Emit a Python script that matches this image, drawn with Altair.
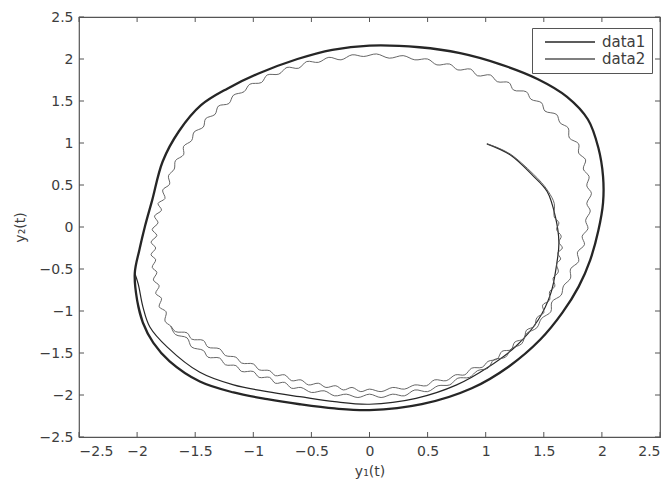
import altair as alt
import pandas as pd

# ---- data (clockwise trajectories) ----
# data1: first pass from the start point until it joins the limit cycle
d1a_x = [1.01, 1.21, 1.40, 1.53, 1.60, 1.63, 1.61, 1.56, 1.45, 1.26, 1.02, 0.75, 0.40, 0.00, -0.30,
         -0.60, -0.88, -1.17, -1.46, -1.74, -1.89, -1.95, -1.99, -2.02]
d1a_y = [0.99, 0.86, 0.62, 0.42, 0.12, -0.18, -0.45, -0.79, -1.11, -1.42, -1.67, -1.88, -2.04, -2.11, -2.08,
         -2.02, -1.96, -1.88, -1.73, -1.43, -1.19, -0.95, -0.68, -0.55]
# data1: limit cycle (drawn over several times in the original)
d1b_x = [-1.95, -2.00, -2.02, -1.98, -1.93, -1.87, -1.78, -1.64, -1.45, -1.22, -0.95, -0.62, -0.32, 0.00,
         0.43, 0.78, 1.12, 1.45, 1.70, 1.88, 1.97, 2.01, 2.01, 1.97, 1.90, 1.80, 1.66, 1.47, 1.20, 0.88,
         0.45, 0.00, -0.30, -0.60, -0.88, -1.17, -1.46, -1.72, -1.86, -1.95, -2.00, -2.02, -1.98, -1.93]
d1b_y = [-1.14, -0.87, -0.55, -0.27, 0.02, 0.32, 0.78, 1.14, 1.45, 1.65, 1.83, 2.00, 2.11, 2.16,
         2.14, 2.07, 1.94, 1.76, 1.55, 1.28, 0.94, 0.60, 0.29, -0.04, -0.39, -0.71, -1.02, -1.34, -1.66, -1.92,
         -2.11, -2.18, -2.16, -2.11, -2.05, -1.97, -1.84, -1.60, -1.38, -1.14, -0.87, -0.55, -0.27, 0.02]

# data2: scalloped trajectory (start, first pass, then its closed cycle)
d2_x = [1.01, 1.11, 1.21, 1.31, 1.41, 1.48, 1.54, 1.59,
        1.59, 1.63, 1.61, 1.65, 1.63, 1.66, 1.62, 1.645, 1.61, 1.625, 1.58, 1.595,
        1.55, 1.55, 1.49, 1.50, 1.44, 1.42, 1.35, 1.33, 1.25, 1.22, 1.14, 1.10,
        1.02, 0.97, 0.88, 0.82, 0.74, 0.66, 0.56, 0.49, 0.39, 0.30, 0.20, 0.10,
        0.00, -0.075, -0.15, -0.225, -0.29, -0.375, -0.44, -0.525, -0.59, -0.67, -0.73, -0.81,
        -0.86, -0.95, -1.00, -1.10, -1.15, -1.24, -1.29, -1.39, -1.43, -1.53, -1.57, -1.67,
        -1.71, -1.76, -1.75, -1.81, -1.79, -1.84, -1.81, -1.86, -1.83, -1.87, -1.84, -1.88,
        -1.84, -1.88, -1.83, -1.87, -1.82, -1.85, -1.79, -1.82, -1.76, -1.78, -1.72, -1.73,
        -1.68, -1.67, -1.60, -1.60, -1.53, -1.51, -1.43, -1.41, -1.33, -1.30, -1.21, -1.17,
        -1.08, -1.03, -0.93, -0.88, -0.78, -0.71, -0.61, -0.54, -0.44, -0.35, -0.245, -0.15,
        -0.05, 0.06, 0.17, 0.29, 0.39, 0.50, 0.58, 0.69, 0.76, 0.87, 0.93, 1.04,
        1.10, 1.20, 1.24, 1.35, 1.39, 1.48, 1.51, 1.61, 1.64, 1.71, 1.72, 1.80,
        1.80, 1.86, 1.84, 1.89, 1.87, 1.91, 1.87, 1.90, 1.86, 1.88, 1.83, 1.85,
        1.79, 1.80, 1.73, 1.73, 1.67, 1.65, 1.57, 1.56, 1.48, 1.44, 1.35, 1.31,
        1.22, 1.17, 1.07, 1.02, 0.93, 0.86, 0.76, 0.69, 0.59, 0.50, 0.39, 0.30,
        0.20, 0.10, 0.00, -0.10, -0.20, -0.30, -0.39, -0.50, -0.59, -0.67, -0.73, -0.81,
        -0.86, -0.95, -1.00, -1.10, -1.15, -1.24, -1.29, -1.39, -1.43, -1.53, -1.57, -1.67, -1.71]
d2_y = [0.99, 0.94, 0.87, 0.76, 0.63, 0.53, 0.42, 0.28,
        0.12, 0.05, -0.03, -0.11, -0.18, -0.25, -0.31, -0.38, -0.44, -0.535, -0.61, -0.705,
        -0.77, -0.87, -0.93, -1.02, -1.08, -1.18, -1.23, -1.33, -1.37, -1.46, -1.48, -1.57,
        -1.60, -1.67, -1.68, -1.76, -1.76, -1.83, -1.82, -1.89, -1.88, -1.93, -1.91, -1.96,
        -1.93, -1.96, -1.91, -1.94, -1.89, -1.91, -1.86, -1.88, -1.82, -1.83, -1.76, -1.77,
        -1.71, -1.70, -1.63, -1.62, -1.55, -1.53, -1.45, -1.43, -1.35, -1.335, -1.26, -1.245,
        -1.18, -1.12, -1.01, -0.95, -0.85, -0.79, -0.70, -0.63, -0.54, -0.48, -0.39, -0.33,
        -0.25, -0.18, -0.10, -0.03, 0.05, 0.13, 0.20, 0.28, 0.34, 0.44, 0.51, 0.61,
        0.69, 0.79, 0.86, 0.96, 1.03, 1.13, 1.19, 1.29, 1.34, 1.44, 1.47, 1.57,
        1.61, 1.70, 1.72, 1.81, 1.82, 1.90, 1.89, 1.97, 1.96, 2.02, 1.99, 2.05,
        2.03, 2.06, 2.01, 2.04, 1.99, 2.00, 1.93, 1.94, 1.87, 1.88, 1.80, 1.81,
        1.73, 1.72, 1.63, 1.61, 1.52, 1.48, 1.38, 1.34, 1.24, 1.18, 1.06, 0.99,
        0.88, 0.80, 0.69, 0.60, 0.49, 0.40, 0.28, 0.19, 0.08, -0.02, -0.11, -0.21,
        -0.30, -0.41, -0.50, -0.61, -0.70, -0.81, -0.89, -1.01, -1.09, -1.20, -1.27, -1.39,
        -1.45, -1.55, -1.58, -1.68, -1.71, -1.79, -1.80, -1.88, -1.89, -1.96, -1.94, -2.01,
        -1.99, -2.03, -1.99, -2.03, -1.99, -2.01, -1.95, -1.97, -1.91, -1.92, -1.85, -1.86,
        -1.79, -1.79, -1.72, -1.72, -1.65, -1.64, -1.56, -1.55, -1.47, -1.43, -1.32, -1.28, -1.18]

tick_vals = [-2.5, -2, -1.5, -1, -0.5, 0, 0.5, 1, 1.5, 2, 2.5]
series = ["data1", "data2"]

W, H = 581, 420
INK = "#3d3d3d"
FRAME = "#555555"
FONT = "DejaVu Sans"

df1a = pd.DataFrame({"x": d1a_x, "y": d1a_y, "series": "data1", "i": range(len(d1a_x))})
df1b = pd.DataFrame({"x": d1b_x, "y": d1b_y, "series": "data1", "i": range(len(d1b_x))})
df2 = pd.DataFrame({"x": d2_x, "y": d2_y, "series": "data2", "i": range(len(d2_x))})
ticks = pd.DataFrame({"x": tick_vals, "y": tick_vals})

xs = alt.Scale(domain=[-2.5, 2.5], nice=False, zero=False)
ys = alt.Scale(domain=[-2.5, 2.5], nice=False, zero=False)

leg = alt.Legend(title=None, orient="none", legendX=453, legendY=11,
                 symbolType="stroke", symbolSize=2500, clipHeight=16, symbolStrokeWidth=1.4,
                 strokeColor=FRAME, fillColor="white", padding=6,
                 symbolOffset=6, labelOffset=6, rowPadding=1,
                 labelFont=FONT, labelFontSize=15, labelColor=INK)
color = alt.Color("series:N", scale=alt.Scale(domain=series, range=["#262626", "#555555"]), legend=leg)

x_axis = alt.Axis(values=tick_vals, format="~g", title="y\u2081(t)", grid=False, ticks=False, domain=False,
                  labelPadding=7, titlePadding=6)
y_axis = alt.Axis(values=tick_vals, format="~g", title="y\u2082(t)", grid=False, ticks=False, domain=False,
                  labelPadding=6, titlePadding=12)

line1a = alt.Chart(df1a).mark_line(interpolate="catmull-rom", strokeWidth=1.2, strokeJoin="round").encode(
    x=alt.X("x:Q", scale=xs, axis=x_axis),
    y=alt.Y("y:Q", scale=ys, axis=y_axis),
    order="i:Q", color=color)
line1b = alt.Chart(df1b).mark_line(interpolate="catmull-rom", strokeWidth=2.3, strokeJoin="round").encode(
    x=alt.X("x:Q", scale=xs), y=alt.Y("y:Q", scale=ys), order="i:Q", color=color)
line2 = alt.Chart(df2).mark_line(interpolate="catmull-rom", strokeWidth=0.9, strokeJoin="round").encode(
    x=alt.X("x:Q", scale=xs), y=alt.Y("y:Q", scale=ys), order="i:Q", color=color)

tl = 5
xt_b = alt.Chart(ticks).mark_rule(color=FRAME, strokeWidth=1).encode(
    x=alt.X("x:Q", scale=xs), y=alt.value(H), y2=alt.value(H - tl))
xt_t = alt.Chart(ticks).mark_rule(color=FRAME, strokeWidth=1).encode(
    x=alt.X("x:Q", scale=xs), y=alt.value(0), y2=alt.value(tl))
yt_l = alt.Chart(ticks).mark_rule(color=FRAME, strokeWidth=1).encode(
    y=alt.Y("y:Q", scale=ys), x=alt.value(0), x2=alt.value(tl))
yt_r = alt.Chart(ticks).mark_rule(color=FRAME, strokeWidth=1).encode(
    y=alt.Y("y:Q", scale=ys), x=alt.value(W), x2=alt.value(W - tl))

chart = alt.layer(line1b, line1a, line2, xt_b, xt_t, yt_l, yt_r).properties(
    width=W, height=H,
    autosize=alt.AutoSizeParams(type="none"),
    padding={"left": 71, "top": 9, "right": 2, "bottom": 45},
    background="white",
).configure_view(stroke=FRAME, strokeWidth=1.2).configure_axis(
    labelFont=FONT, labelFontSize=14, labelColor=INK,
    titleFont=FONT, titleFontSize=14, titleColor=INK, titleFontWeight="normal",
)

chart.save("out.html", embed_options={"renderer": "svg", "actions": False})
